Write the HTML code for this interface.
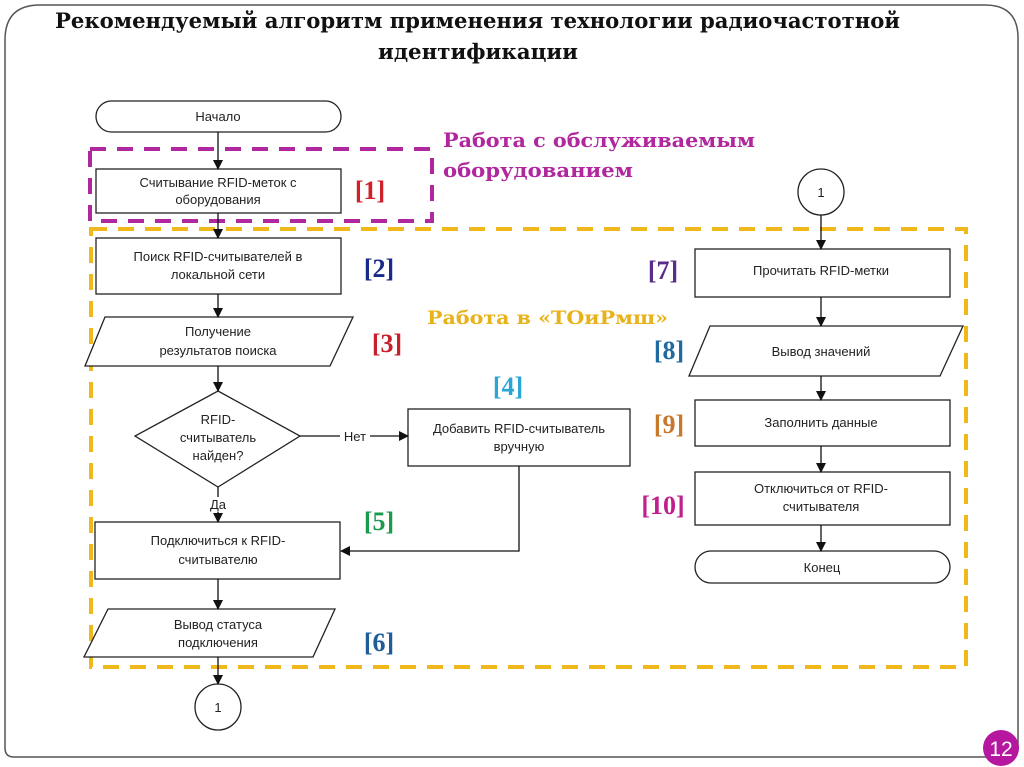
<!DOCTYPE html>
<html><head><meta charset="utf-8"><style>
html,body{margin:0;padding:0;background:#fff;width:1024px;height:767px;overflow:hidden}
svg{display:block}
.t{font-family:"Liberation Sans","DejaVu Sans",sans-serif;font-size:13px;fill:#222;text-anchor:middle}
.n{font-family:"Liberation Serif",serif;font-weight:bold;font-size:26px;text-anchor:middle}
</style></head><body>
<svg width="1024" height="767" viewBox="0 0 1024 767" xmlns="http://www.w3.org/2000/svg">
<defs><marker id="a" markerWidth="10" markerHeight="10" refX="9" refY="5" orient="auto" markerUnits="userSpaceOnUse"><path d="M0,0 L10,5 L0,10 z" fill="#111"/></marker></defs>
<path d="M40,5 H985 Q1018,5 1018,38 V748 Q1018,757 1009,757 H14 Q5,757 5,748 V40 Q5,5 40,5 Z" fill="none" stroke="#555" stroke-width="1.5"/>
<text x="55" y="28" font-family="DejaVu Serif,Liberation Serif,serif" font-weight="bold" font-size="21" fill="#111" textLength="845" lengthAdjust="spacingAndGlyphs">Рекомендуемый алгоритм применения технологии радиочастотной</text>
<text x="378" y="59" font-family="DejaVu Serif,Liberation Serif,serif" font-weight="bold" font-size="21" fill="#111" textLength="200" lengthAdjust="spacingAndGlyphs">идентификации</text>
<rect x="91" y="229" width="875" height="438" fill="none" stroke="#f0b81a" stroke-width="4" stroke-dasharray="16,11"/>
<rect x="90" y="149" width="342" height="72" fill="none" stroke="#b0279e" stroke-width="4" stroke-dasharray="16,11"/>
<g stroke="#222" stroke-width="1.3" fill="#fff">
<rect x="96" y="101" width="245" height="31" rx="15.5"/>
<rect x="96" y="169" width="245" height="44"/>
<rect x="96" y="238" width="245" height="56"/>
<polygon points="105,317 353,317 330,366 85,366"/>
<polygon points="218,391 300,436 218,487 135,436"/>
<rect x="408" y="409" width="222" height="57"/>
<rect x="95" y="522" width="245" height="57"/>
<polygon points="108,609 335,609 313,657 84,657"/>
<circle cx="218" cy="707" r="23"/>
<circle cx="821" cy="192" r="23"/>
<rect x="695" y="249" width="255" height="48"/>
<polygon points="710,326 963,326 940,376 689,376"/>
<rect x="695" y="400" width="255" height="46"/>
<rect x="695" y="472" width="255" height="53"/>
<rect x="695" y="551" width="255" height="32" rx="16"/>
</g>
<g stroke="#111" stroke-width="1.3" fill="none" marker-end="url(#a)">
<line x1="218" y1="132" x2="218" y2="169"/>
<line x1="218" y1="213" x2="218" y2="238"/>
<line x1="218" y1="294" x2="218" y2="317"/>
<line x1="218" y1="366" x2="218" y2="391"/>
<line x1="300" y1="436" x2="408" y2="436"/>
<line x1="218" y1="487" x2="218" y2="522"/>
<polyline points="519,466 519,551 341,551"/>
<line x1="218" y1="579" x2="218" y2="609"/>
<line x1="218" y1="657" x2="218" y2="684"/>
<line x1="821" y1="215" x2="821" y2="249"/>
<line x1="821" y1="297" x2="821" y2="326"/>
<line x1="821" y1="376" x2="821" y2="400"/>
<line x1="821" y1="446" x2="821" y2="472"/>
<line x1="821" y1="525" x2="821" y2="551"/>
</g>
<rect x="340" y="429" width="30" height="15" fill="#fff"/>
<text class="t" x="355" y="441">Нет</text>
<rect x="205" y="497" width="26" height="15" fill="#fff"/>
<text class="t" x="218" y="509">Да</text>
<text class="t" x="218" y="121">Начало</text>
<text class="t" x="218" y="187">Считывание RFID-меток с</text>
<text class="t" x="218" y="204">оборудования</text>
<text class="t" x="218" y="261">Поиск RFID-считывателей в</text>
<text class="t" x="218" y="279">локальной сети</text>
<text class="t" x="218" y="336">Получение</text>
<text class="t" x="218" y="355">результатов поиска</text>
<text class="t" x="218" y="424">RFID-</text>
<text class="t" x="218" y="442">считыватель</text>
<text class="t" x="218" y="460">найден?</text>
<text class="t" x="519" y="433">Добавить RFID-считыватель</text>
<text class="t" x="519" y="451">вручную</text>
<text class="t" x="218" y="545">Подключиться к RFID-</text>
<text class="t" x="218" y="564">считывателю</text>
<text class="t" x="218" y="629">Вывод статуса</text>
<text class="t" x="218" y="647">подключения</text>
<text class="t" x="218" y="712">1</text>
<text class="t" x="821" y="197">1</text>
<text class="t" x="821" y="275">Прочитать RFID-метки</text>
<text class="t" x="821" y="356">Вывод значений</text>
<text class="t" x="821" y="427">Заполнить данные</text>
<text class="t" x="821" y="493">Отключиться от RFID-</text>
<text class="t" x="821" y="511">считывателя</text>
<text class="t" x="822" y="572">Конец</text>
<text class="n" x="370" y="199" fill="#d0202a">[1]</text>
<text class="n" x="379" y="277" fill="#1a2a8a">[2]</text>
<text class="n" x="387" y="352" fill="#c8202a">[3]</text>
<text class="n" x="508" y="395" fill="#29a6d6">[4]</text>
<text class="n" x="379" y="530" fill="#1b9a4e">[5]</text>
<text class="n" x="379" y="651" fill="#1f5d99">[6]</text>
<text class="n" x="663" y="279" fill="#5b2d8a">[7]</text>
<text class="n" x="669" y="359" fill="#1f6aa0">[8]</text>
<text class="n" x="669" y="433" fill="#c8782a">[9]</text>
<text class="n" x="663" y="514" fill="#c0208e">[10]</text>
<text x="427" y="324" font-family="DejaVu Serif,Liberation Serif,serif" font-weight="bold" font-size="19" fill="#e8b21a" textLength="241" lengthAdjust="spacingAndGlyphs">Работа в «ТОиРмш»</text>
<text x="443" y="147" font-family="DejaVu Serif,Liberation Serif,serif" font-weight="bold" font-size="20" fill="#b0279e" textLength="312" lengthAdjust="spacingAndGlyphs">Работа с обслуживаемым</text>
<text x="443" y="177" font-family="DejaVu Serif,Liberation Serif,serif" font-weight="bold" font-size="20" fill="#b0279e" textLength="190" lengthAdjust="spacingAndGlyphs">оборудованием</text>
<circle cx="1001" cy="748" r="18" fill="#b5179e"/>
<text x="1001" y="756" font-family="Liberation Sans,sans-serif" font-size="21" text-anchor="middle" fill="#fff">12</text>
</svg>
</body></html>
